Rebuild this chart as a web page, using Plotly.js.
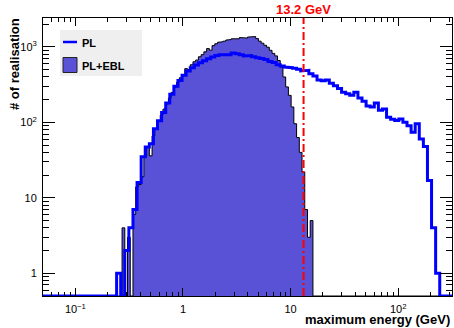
<!DOCTYPE html>
<html><head><meta charset="utf-8">
<script src="https://cdn.plot.ly/plotly-3.0.1.min.js"></script>
<style>html,body{margin:0;padding:0;background:#fff}#c{width:454px;height:328px}</style>
</head><body><div id="c"></div>
<script>
// ---- data ----
const xLogMin = Math.log10(0.05), xLogMax = 2.5;      // histogram / axis range (log10 GeV)
const yLogMin = Math.log10(0.5), yLogMax = 3.383;     // y axis range (log10 counts)
const plNBins = 100;
const eblNBins = 150;
// PL : number of realisations per log bin (100 bins)
const plCounts = [
  0,0,0,0,0,0,0,0,0,0, 0,0,0,0,0,0,0,0,1,0,
  2,4,7,16,35,47,52,82,105,135,
  180,235,300,360,420,480,530,575,615,655,
  695,735,770,790,800,790,830,810,790,760,
  770,740,720,700,680,640,620,580,560,540,
  530,520,505,480,490,440,410,365,355,365,
  330,305,280,250,240,228,250,210,190,165,
  160,180,145,150,117,110,106,111,100,90,
  74,96,60,48,17,4,1,0,0,0
];
// PL+EBL : number of realisations per log bin (150 bins, non-zero part 0..98)
const eblCounts = [
  0,0,0,0,0,0,0,0,0,0, 0,0,0,0,0,0,0,0,0,0,
  0,0,0,0,0,0,0,0,0,4, 0,3,0,6,14,15,19,35,47,36,
  66,82,105,125,150,175,210,250,290,340,
  390,430,515,500,580,635,670,740,790,860,
  950,905,1040,1100,1150,1170,1190,1230,1250,1280,
  1300,1280,1330,1340,1310,1350,1380,1370,1290,1190,
  1120,1050,990,900,820,760,660,540,400,295,
  228,160,96,63,40,22,7,3,5
];
const cutEnergy = 13.2;
const xTickVals = [0.1, 1, 10, 100];
const xTickText = ['10<sup>\u22121</sup>', '1', '10', '10<sup>2</sup>'];
const yTickVals = [1, 10, 100, 1000];
const yTickText = ['1', '10', '10<sup>2</sup>', '10<sup>3</sup>'];
const seriesNames = ['PL', 'PL+EBL'];
const xTitle = 'maximum energy (GeV)';
const yTitle = '# of realisation';

// ---- helpers ----
const yFloor = Math.pow(10, yLogMin);
function edges(n){const e=[];for(let i=0;i<=n;i++)e.push(Math.pow(10,xLogMin+i*(xLogMax-xLogMin)/n));return e;}
function stepPath(counts, nBins){
  const e = edges(nBins), xs=[e[0]], ys=[yFloor];
  for(let i=0;i<nBins;i++){const v=counts[i]||0; const y=v>0?v:yFloor; xs.push(e[i],e[i+1]); ys.push(y,y);}
  xs.push(e[nBins]); ys.push(yFloor);
  return {xs, ys};
}
function minorVals(lo, hi){const out=[];for(let d=Math.floor(lo)-1; d<=Math.ceil(hi); d++){for(let k=2;k<=9;k++)out.push(k*Math.pow(10,d));}return out;}

const W=454,H=328,L=43,R=452,T=18,B=296;
const px = x => (x-L)/(R-L), py = y => (B-y)/(B-T);
const FONT = 'Liberation Sans, Arial, Helvetica, sans-serif';
const fillCol = '#5952d6';

const ebl = stepPath(eblCounts, eblNBins);
const pl = stepPath(plCounts, plNBins);

const traces = [
  {x: ebl.xs, y: ebl.ys, type:'scatter', mode:'lines', fill:'toself', fillcolor: fillCol,
   line:{color:'#000', width:1}, name: seriesNames[1], hoverinfo:'skip'},
  {x: pl.xs, y: pl.ys, type:'scatter', mode:'lines', line:{color:'#0000ff', width:3},
   name: seriesNames[0], hoverinfo:'skip'},
  {x:[cutEnergy, cutEnergy], y:[yFloor, Math.pow(10,yLogMax)], type:'scatter', mode:'lines',
   line:{color:'#ff0000', width:2, dash:'8px,3px,2px,3px'}, hoverinfo:'skip'}
];

const axisCommon = {
  type:'log', showline:true, linecolor:'#000', linewidth:1, mirror:'allticks',
  ticks:'inside', tickcolor:'#000', tickwidth:1, showgrid:false, zeroline:false,
  tickmode:'array', tickfont:{family:FONT, size:11, color:'#000'}
};

const layout = {
  width:W, height:H, margin:{l:L, r:W-R, t:T, b:H-B, pad:0},
  paper_bgcolor:'#fff', plot_bgcolor:'#fff', showlegend:false,
  xaxis: Object.assign({}, axisCommon, {range:[xLogMin, xLogMax], tickvals:xTickVals, ticktext:xTickText,
    ticklen:8, ticklabelstandoff:3,
    minor:{tickmode:'array', tickvals:minorVals(xLogMin,xLogMax), ticks:'inside', ticklen:4, tickcolor:'#000', showgrid:false}}),
  yaxis: Object.assign({}, axisCommon, {range:[yLogMin, yLogMax], tickvals:yTickVals, ticktext:yTickText,
    ticklen:12, ticklabelstandoff:3,
    minor:{tickmode:'array', tickvals:minorVals(yLogMin,yLogMax), ticks:'inside', ticklen:6, tickcolor:'#000', showgrid:false}}),
  shapes: [
    {type:'rect', xref:'paper', yref:'paper', x0:px(60), x1:px(142), y0:py(76), y1:py(30), fillcolor:'#efefef', line:{width:0}},
    {type:'line', xref:'paper', yref:'paper', x0:px(63), x1:px(77), y0:py(42), y1:py(42), line:{color:'#0000ff', width:2.5}},
    {type:'rect', xref:'paper', yref:'paper', x0:px(63), x1:px(77), y0:py(72.5), y1:py(57.5), fillcolor:fillCol, line:{color:'#222', width:1}}
  ],
  annotations: [
    {xref:'paper', yref:'paper', x:px(80), y:py(43), xanchor:'left', yanchor:'middle', showarrow:false,
     text:'<b>'+seriesNames[0]+'</b>', font:{family:FONT, size:11, color:'#000'}},
    {xref:'paper', yref:'paper', x:px(80), y:py(66), xanchor:'left', yanchor:'middle', showarrow:false,
     text:'<b>'+seriesNames[1]+'</b>', font:{family:FONT, size:11, color:'#000'}},
    {xref:'x', yref:'paper', x:Math.log10(cutEnergy), y:py(10), xanchor:'center', yanchor:'middle', showarrow:false,
     text:'<b>'+cutEnergy+' GeV</b>', font:{family:FONT, size:13, color:'#ff0000'}},
    {xref:'paper', yref:'paper', x:px(452), y:py(319), xanchor:'right', yanchor:'middle', showarrow:false,
     text:'<b>'+xTitle+'</b>', font:{family:FONT, size:13, color:'#000'}},
    {xref:'paper', yref:'paper', x:px(14), y:py(16), xanchor:'center', yanchor:'top', textangle:-90, showarrow:false,
     text:'<b>'+yTitle+'</b>', font:{family:FONT, size:13, color:'#000'}}
  ]
};

Plotly.newPlot('c', traces, layout, {displayModeBar:false, staticPlot:true});
</script>
</body></html>
